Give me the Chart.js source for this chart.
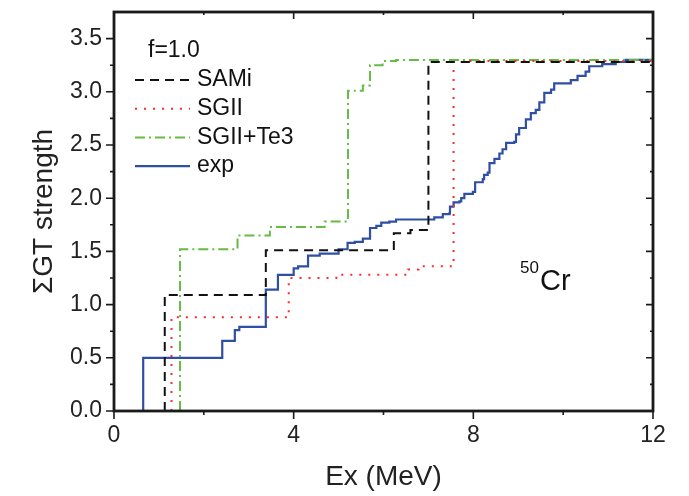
<!DOCTYPE html>
<html>
<head>
<meta charset="utf-8">
<script src="https://cdn.jsdelivr.net/npm/chart.js@4.4.1/dist/chart.umd.min.js"></script>
<style>
  html, body { margin: 0; padding: 0; background: #fff; }
  #wrap { width: 689px; height: 496px; }
</style>
</head>
<body>
<div id="wrap"><canvas id="gtChart" width="689" height="496"></canvas></div>
<script>
// 累積 GT 強度 (階梯), 每個點 = 該能量之後嘅總和
const samiEx  = [1.13, 1.13, 3.38, 6.23, 6.60, 7.00, 12.0];
const samiSum = [0.00, 1.09, 1.51, 1.67, 1.70, 3.28, 3.30];

const sgiiEx  = [1.28, 1.28, 3.89, 4.95, 6.55, 6.78, 7.56, 7.80, 12.0];
const sgiiSum = [0.00, 0.88, 1.25, 1.28, 1.33, 1.36, 3.28, 3.29, 3.30];

const te3Ex  = [1.47, 1.47, 2.75, 3.47, 4.69, 5.21, 5.54, 5.70, 5.98, 6.28, 12.0];
const te3Sum = [0.00, 1.52, 1.65, 1.73, 1.78, 3.01, 3.06, 3.25, 3.29, 3.30, 3.30];

const expEx = [0.65, 0.65, 2.41, 2.69, 2.79, 3.38, 3.65, 4.00, 4.10, 4.32, 4.58,
               5.00, 5.20, 5.36, 5.54, 5.70, 5.84, 5.95, 6.13, 6.28, 7.13, 7.32,
               7.47, 7.48, 7.56, 7.69, 7.73, 7.80, 7.99, 8.04, 8.21, 8.24, 8.32,
               8.36, 8.47, 8.58, 8.65, 8.73, 8.91, 8.95, 9.02, 9.17, 9.28, 9.39,
               9.47, 9.58, 9.73, 9.80, 10.17, 10.32, 10.50, 10.58, 10.87, 11.17,
               11.39, 12.0];
const expSum = [0.00, 0.50, 0.66, 0.76, 0.79, 1.14, 1.28, 1.34, 1.36, 1.46, 1.48,
                1.52, 1.58, 1.59, 1.62, 1.72, 1.74, 1.77, 1.78, 1.80, 1.82, 1.85,
                1.86, 1.92, 1.96, 1.97, 2.00, 2.04, 2.06, 2.15, 2.18, 2.22, 2.24,
                2.33, 2.37, 2.42, 2.46, 2.52, 2.53, 2.60, 2.66, 2.74, 2.80, 2.83,
                2.90, 2.99, 3.02, 3.08, 3.11, 3.15, 3.19, 3.24, 3.26, 3.28,
                3.30, 3.30];

const seriesNames = ['SAMi', 'SGII', 'SGII+Te3', 'exp'];
const legendTitle = 'f=1.0';
const xMajorTicks = [0, 4, 8, 12];
const xMinorTicks = [2, 6, 10];
const yMajorTicks = [0, 0.5, 1.0, 1.5, 2.0, 2.5, 3.0, 3.5];
const yMinorTicks = [0.25, 0.75, 1.25, 1.75, 2.25, 2.75, 3.25];

const FONT = '"Liberation Sans", Arial, sans-serif';

function toPoints(xs, ys) {
    return xs.map((x, i) => ({ x: x, y: ys[i] }));
}

// 外框、刻度、圖例同 50Cr 標籤
const framePlugin = {
    id: 'frameAndLegend',
    afterDraw(chart) {
        const ctx = chart.ctx;
        const ca = chart.chartArea;
        const xs = chart.scales.x;
        const ys = chart.scales.y;
        ctx.save();
        ctx.strokeStyle = '#1a1a1a';
        ctx.lineWidth = 1.6;
        ctx.setLineDash([]);
        ctx.beginPath();
        xMajorTicks.concat(xMinorTicks).forEach(v => {
            const len = xMajorTicks.includes(v) ? 8 : 4;
            const px = xs.getPixelForValue(v);
            ctx.moveTo(px, ca.bottom); ctx.lineTo(px, ca.bottom + len);
            ctx.moveTo(px, ca.top); ctx.lineTo(px, ca.top + len - 1);
        });
        yMajorTicks.concat(yMinorTicks).forEach(v => {
            const len = yMajorTicks.includes(v) ? 8 : 4;
            const py = ys.getPixelForValue(v);
            ctx.moveTo(ca.left, py); ctx.lineTo(ca.left - len, py);
            ctx.moveTo(ca.right, py); ctx.lineTo(ca.right - len + 1, py);
        });
        ctx.stroke();
        ctx.lineWidth = 2.8;
        ctx.strokeRect(ca.left, ca.top, ca.right - ca.left, ca.bottom - ca.top);

        // 圖例
        ctx.fillStyle = '#111';
        ctx.font = '23px ' + FONT;
        ctx.textBaseline = 'middle';
        ctx.textAlign = 'left';
        ctx.fillText(legendTitle, ca.left + 34, ca.top + 39);
        chart.data.datasets.forEach((ds, i) => {
            const y = ca.top + 68 + i * 28.7;
            ctx.beginPath();
            ctx.strokeStyle = ds.borderColor;
            ctx.lineWidth = ds.borderWidth;
            ctx.setLineDash(ds.borderDash || []);
            ctx.moveTo(ca.left + 21, y);
            ctx.lineTo(ca.left + 76, y);
            ctx.stroke();
            ctx.setLineDash([]);
            ctx.fillText(ds.label, ca.left + 83, y);
        });

        // 核素標籤
        ctx.textBaseline = 'alphabetic';
        ctx.font = '17px ' + FONT;
        ctx.fillText('50', ca.left + 406, ca.top + 261);
        ctx.font = '29px ' + FONT;
        ctx.fillText('Cr', ca.left + 426, ca.top + 278);
        ctx.restore();
    }
};

const ctx = document.getElementById('gtChart').getContext('2d');

new Chart(ctx, {
    type: 'line',
    data: {
        datasets: [
            {
                label: seriesNames[0],
                data: toPoints(samiEx, samiSum),
                borderColor: '#111111',
                borderWidth: 2,
                borderDash: [9, 6]
            },
            {
                label: seriesNames[1],
                data: toPoints(sgiiEx, sgiiSum),
                borderColor: '#ff2a2a',
                borderWidth: 2,
                borderDash: [2, 7]
            },
            {
                label: seriesNames[2],
                data: toPoints(te3Ex, te3Sum),
                borderColor: '#66bb44',
                borderWidth: 2,
                borderDash: [10, 4, 2, 4]
            },
            {
                label: seriesNames[3],
                data: toPoints(expEx, expSum),
                borderColor: '#2f4fa3',
                borderWidth: 2.2
            }
        ]
    },
    options: {
        responsive: false,
        animation: false,
        layout: { padding: { top: 12, right: 36, left: 0, bottom: 0 } },
        elements: {
            line: { stepped: 'before', fill: false, tension: 0 },
            point: { radius: 0, hoverRadius: 0 }
        },
        plugins: {
            legend: { display: false },
            tooltip: { enabled: false }
        },
        scales: {
            x: {
                type: 'linear',
                min: 0,
                max: 12,
                grid: { display: false, drawTicks: false },
                border: { display: false },
                ticks: {
                    stepSize: 4,
                    padding: 11,
                    color: '#222',
                    font: { family: FONT, size: 23 }
                },
                title: {
                    display: true,
                    text: 'Ex (MeV)',
                    color: '#222',
                    font: { family: FONT, size: 28 },
                    padding: { top: 0, bottom: 2 }
                },
                afterFit(scale) {
                    scale.height = 85;
                    scale.paddingLeft = 0;
                    scale.paddingRight = 0;
                }
            },
            y: {
                type: 'linear',
                min: 0,
                max: 3.75,
                grid: { display: false, drawTicks: false },
                border: { display: false },
                ticks: {
                    stepSize: 0.5,
                    includeBounds: false,
                    padding: 12,
                    color: '#222',
                    font: { family: FONT, size: 23 },
                    callback: v => Number(v).toFixed(1)
                },
                title: {
                    display: true,
                    text: 'ΣGT strength',
                    color: '#222',
                    font: { family: FONT, size: 28 },
                    padding: { top: 27, bottom: 0 }
                },
                afterFit(scale) {
                    scale.width = 114;
                    scale.paddingTop = 0;
                    scale.paddingBottom = 0;
                }
            }
        }
    },
    plugins: [framePlugin]
});
</script>
</body>
</html>
